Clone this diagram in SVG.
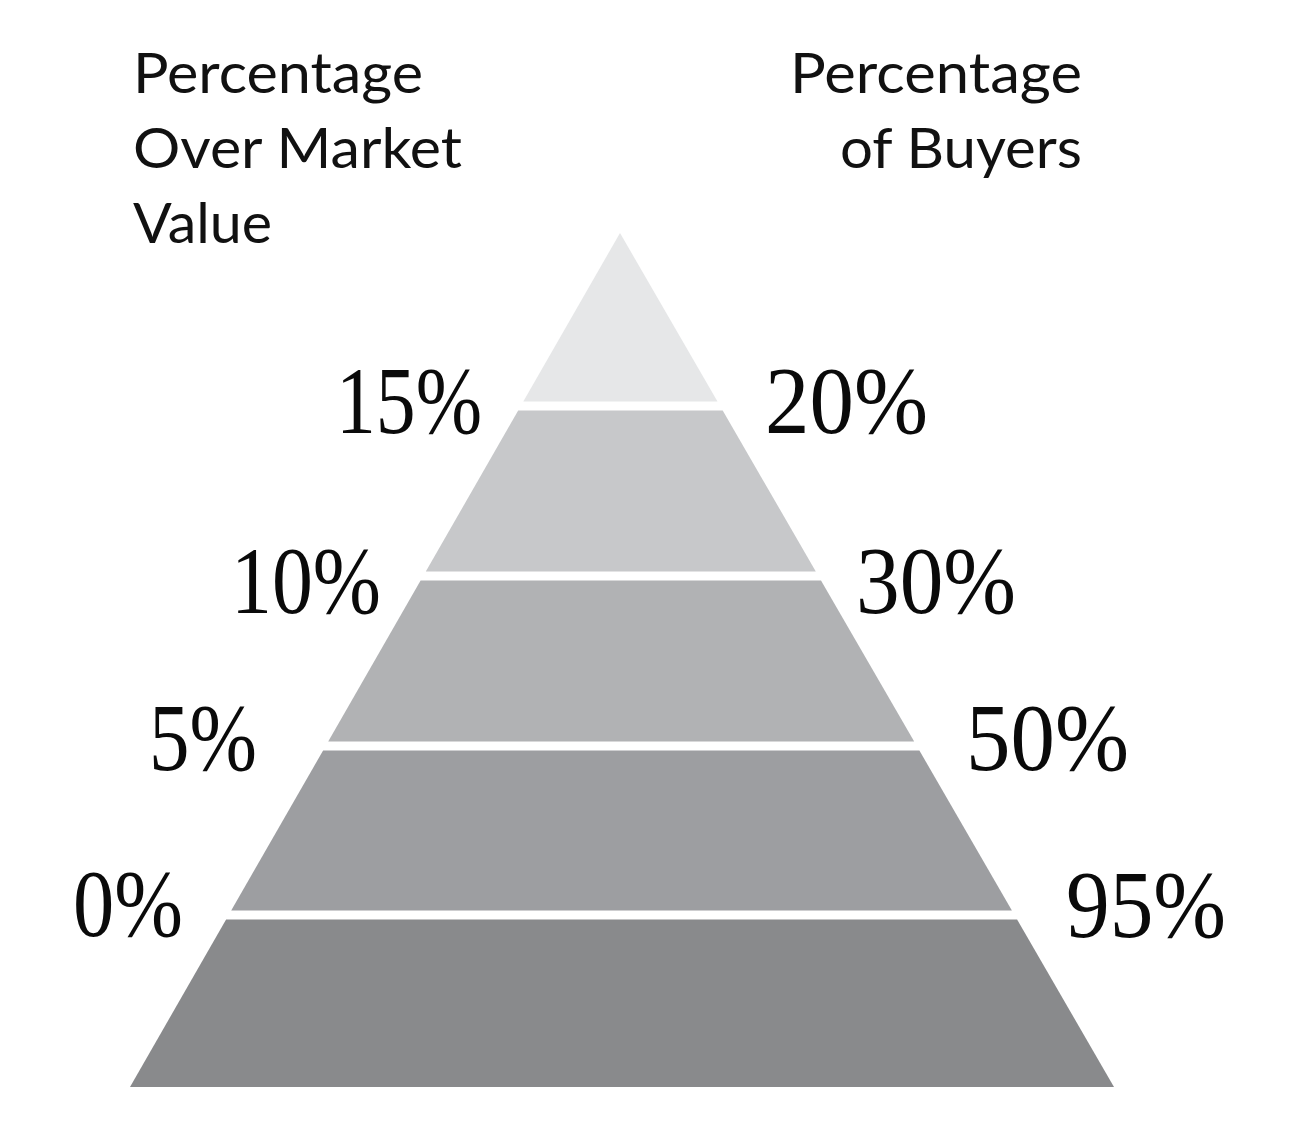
<svg xmlns="http://www.w3.org/2000/svg" width="1303" height="1144" viewBox="0 0 1303 1144">
<style>
.hdr{font-family:Lato,"Noto Sans","Liberation Sans",sans-serif;font-size:56px;fill:#111}
.pct{font-family:"Liberation Serif","Times New Roman",serif;font-size:95px;fill:#0a0a0a}
</style>
<rect width="1303" height="1144" fill="#ffffff"/>
<g id="headers">
<text class="hdr" x="133" y="93" textLength="290" lengthAdjust="spacingAndGlyphs">Percentage</text>
<text class="hdr" x="133" y="168" textLength="329" lengthAdjust="spacingAndGlyphs">Over Market</text>
<text class="hdr" x="133" y="243" textLength="139" lengthAdjust="spacingAndGlyphs">Value</text>
<text class="hdr" x="1082" y="93" text-anchor="end" textLength="292" lengthAdjust="spacingAndGlyphs">Percentage</text>
<text class="hdr" x="1082" y="168" text-anchor="end" textLength="242" lengthAdjust="spacingAndGlyphs">of Buyers</text>
</g>
<g id="pyramid">
<polygon id="tier1" points="620,233 717.5,401.5 523.3,401.5" fill="#e6e7e8"/>
<polygon id="tier2" points="518.2,410.5 722.7,410.5 815.8,571.5 425.8,571.5" fill="#c7c8ca"/>
<polygon id="tier3" points="420.6,580.5 821,580.5 914.2,741.5 328.2,741.5" fill="#b1b2b4"/>
<polygon id="tier4" points="323.1,750.5 919.4,750.5 1011.9,910.5 231.2,910.5" fill="#9d9ea1"/>
<polygon id="tier5" points="226.1,919.5 1017.1,919.5 1114,1087 130,1087" fill="#898a8c"/>
</g>
<g id="labels">
<text class="pct" x="336" y="433" textLength="146" lengthAdjust="spacingAndGlyphs">15%</text>
<text class="pct" x="765" y="433" textLength="163" lengthAdjust="spacingAndGlyphs">20%</text>
<text class="pct" x="231" y="613" textLength="150" lengthAdjust="spacingAndGlyphs">10%</text>
<text class="pct" x="856" y="613" textLength="160" lengthAdjust="spacingAndGlyphs">30%</text>
<text class="pct" x="149" y="770" textLength="108" lengthAdjust="spacingAndGlyphs">5%</text>
<text class="pct" x="966" y="770" textLength="163" lengthAdjust="spacingAndGlyphs">50%</text>
<text class="pct" x="73" y="936" textLength="110" lengthAdjust="spacingAndGlyphs">0%</text>
<text class="pct" x="1066" y="937" textLength="160" lengthAdjust="spacingAndGlyphs">95%</text>
</g>
</svg>
